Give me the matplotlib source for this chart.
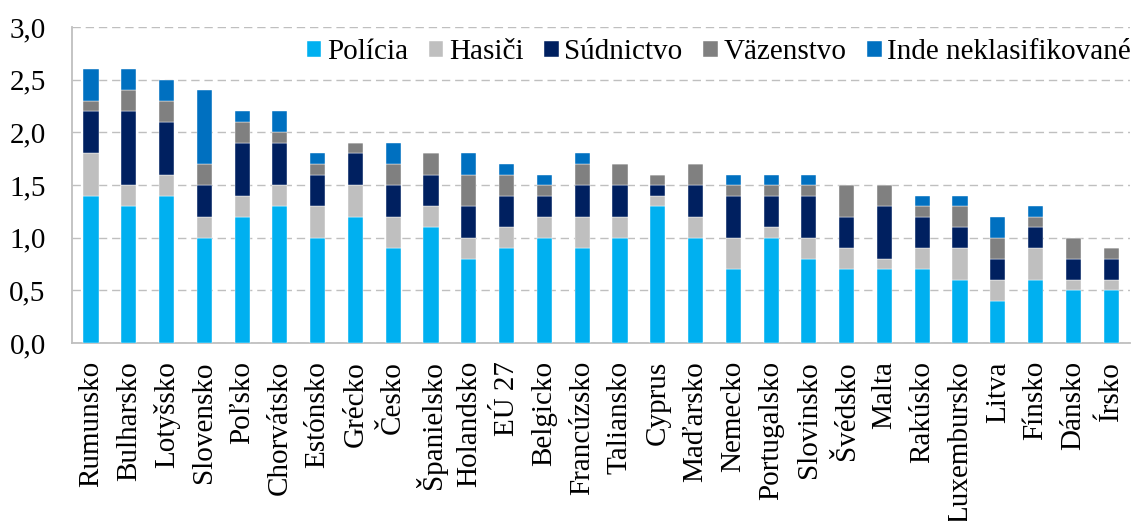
import numpy as np
import matplotlib.pyplot as plt
from matplotlib.ticker import FuncFormatter

plt.rcParams['font.family'] = ['Liberation Serif', 'DejaVu Serif']

countries = ["Rumunsko", "Bulharsko", "Lotyšsko", "Slovensko", "Poľsko", "Chorvátsko",
             "Estónsko", "Grécko", "Česko", "Španielsko", "Holandsko", "EÚ 27",
             "Belgicko", "Francúzsko", "Taliansko", "Cyprus", "Maďarsko", "Nemecko",
             "Portugalsko", "Slovinsko", "Švédsko", "Malta", "Rakúsko", "Luxembursko",
             "Litva", "Fínsko", "Dánsko", "Írsko"]

# values in % of GDP
policia   = [1.4, 1.3, 1.4, 1.0, 1.2, 1.3, 1.0, 1.2, 0.9, 1.1, 0.8, 0.9, 1.0, 0.9,
             1.0, 1.3, 1.0, 0.7, 1.0, 0.8, 0.7, 0.7, 0.7, 0.6, 0.4, 0.6, 0.5, 0.5]
hasici    = [0.4, 0.2, 0.2, 0.2, 0.2, 0.2, 0.3, 0.3, 0.3, 0.2, 0.2, 0.2, 0.2, 0.3,
             0.2, 0.1, 0.2, 0.3, 0.1, 0.2, 0.2, 0.1, 0.2, 0.3, 0.2, 0.3, 0.1, 0.1]
sudnictvo = [0.4, 0.7, 0.5, 0.3, 0.5, 0.4, 0.3, 0.3, 0.3, 0.3, 0.3, 0.3, 0.2, 0.3,
             0.3, 0.1, 0.3, 0.4, 0.3, 0.4, 0.3, 0.5, 0.3, 0.2, 0.2, 0.2, 0.2, 0.2]
vazenstvo = [0.1, 0.2, 0.2, 0.2, 0.2, 0.1, 0.1, 0.1, 0.2, 0.2, 0.3, 0.2, 0.1, 0.2,
             0.2, 0.1, 0.2, 0.1, 0.1, 0.1, 0.3, 0.2, 0.1, 0.2, 0.2, 0.1, 0.2, 0.1]
inde      = [0.3, 0.2, 0.2, 0.7, 0.1, 0.2, 0.1, 0.0, 0.2, 0.0, 0.2, 0.1, 0.1, 0.1,
             0.0, 0.0, 0.0, 0.1, 0.1, 0.1, 0.0, 0.0, 0.1, 0.1, 0.2, 0.1, 0.0, 0.0]

series = [("Polícia", policia, "#00B0F0"),
          ("Hasiči", hasici, "#BFBFBF"),
          ("Súdnictvo", sudnictvo, "#002060"),
          ("Väzenstvo", vazenstvo, "#808080"),
          ("Inde neklasifikované", inde, "#0070C0")]

fig = plt.figure(figsize=(11.33, 5.21), dpi=100)
ax = fig.add_axes([0.0636, 0.3417, 0.9338, 0.6063])

x = np.arange(len(countries))
bottom = np.zeros(len(countries))
for name, vals, col in series:
    vals = np.array(vals)
    ax.bar(x, vals, 0.40, bottom=bottom, color=col, label=name,
           edgecolor="white", linewidth=0.3, zorder=3)
    bottom += vals

ax.set_xlim(-0.5, len(countries) - 0.5)
ax.set_ylim(0, 3.0)
ax.set_yticks(np.arange(0, 3.01, 0.5))
ax.yaxis.set_major_formatter(FuncFormatter(lambda v, p: f"{v:.1f}".replace(".", ",")))
ax.yaxis.grid(True, color="#bfbfbf", linestyle=(0, (6, 3.5)), linewidth=1.0, zorder=0)
ax.set_xticks(x)
ax.set_xticklabels(countries, rotation=90)
ax.tick_params(axis="both", length=0, labelsize=21)
ax.tick_params(axis="y", pad=19)
ax.tick_params(axis="x", pad=13)

for s in ["top", "right"]:
    ax.spines[s].set_visible(False)
for s in ["left", "bottom"]:
    ax.spines[s].set_color("#bfbfbf")
    ax.spines[s].set_linewidth(1.3)

ax.legend(loc="upper right", bbox_to_anchor=(1.012, 0.998), ncol=5, frameon=False,
          fontsize=21, handlelength=0.5, handleheight=0.5, handletextpad=0.2,
          columnspacing=0.7, borderaxespad=0)

plt.savefig("out.png", dpi=100)
